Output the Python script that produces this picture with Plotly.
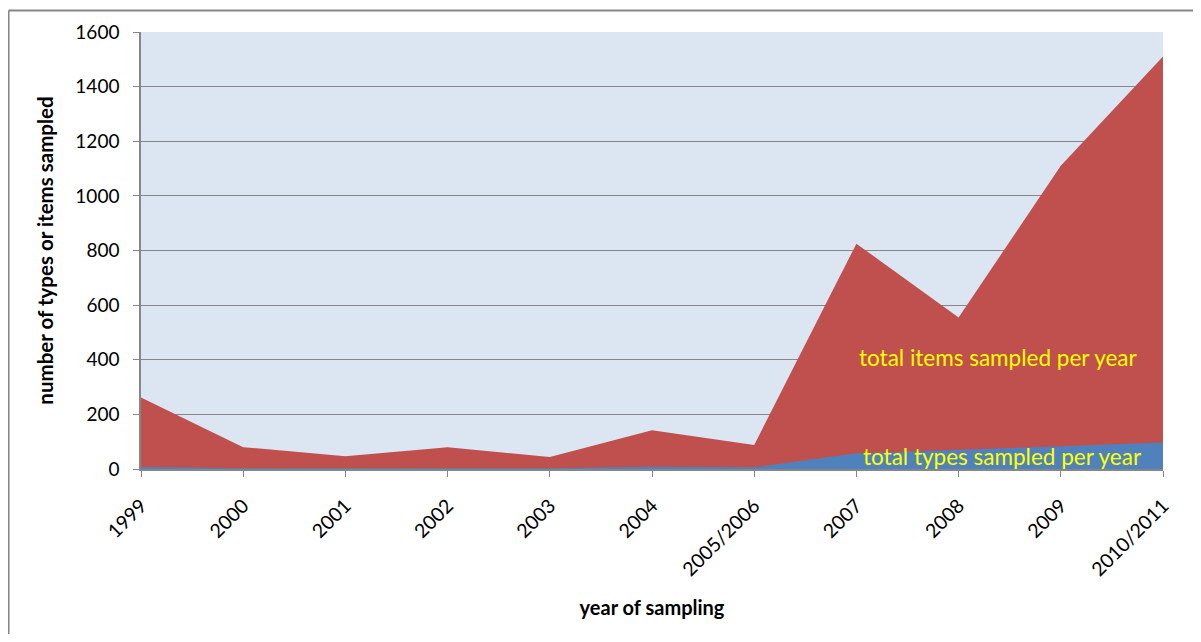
import plotly.graph_objects as go

years = ["1999", "2000", "2001", "2002", "2003", "2004", "2005/2006", "2007", "2008", "2009", "2010/2011"]
total_items = [262, 80, 47, 80, 44, 142, 88, 825, 555, 1110, 1510]
total_types = [7, 3, 3, 3, 3, 8, 6, 58, 70, 83, 97]
y_ticks = [0, 200, 400, 600, 800, 1000, 1200, 1400, 1600]

RED = "#C0504D"
BLUE = "#4F81BD"
FONT = "Lato, 'Open Sans', sans-serif"
BORDER = "#868686"

fig = go.Figure()
fig.add_trace(go.Scatter(x=years, y=total_items, mode="lines", fill="tozeroy",
                         line=dict(width=0, color=RED), fillcolor=RED,
                         name="total items sampled per year"))
fig.add_trace(go.Scatter(x=years, y=total_types, mode="lines", fill="tozeroy",
                         line=dict(width=0, color=BLUE), fillcolor=BLUE,
                         name="total types sampled per year"))

fig.update_layout(
    width=1185, height=626,
    margin=dict(l=133, r=30, t=22, b=165),
    paper_bgcolor="white",
    plot_bgcolor="#DCE6F2",
    showlegend=False,
    font=dict(family=FONT, size=19, color="black"),
    xaxis=dict(
        type="category", range=[0, len(years) - 1],
        tickangle=-45, ticks="outside", ticklen=6, tickcolor=BORDER,
        showline=True, linecolor=BORDER, linewidth=1.5,
        showgrid=False, zeroline=False, ticklabelstandoff=10,
        title=dict(text="<b>year of sampling</b>", font=dict(size=20), standoff=22),
        tickfont=dict(size=19.5),
    ),
    yaxis=dict(
        range=[0, 1600], tickvals=y_ticks,
        ticks="outside", ticklen=6, tickcolor=BORDER,
        showline=True, linecolor=BORDER, linewidth=1.5,
        showgrid=True, gridcolor=BORDER, gridwidth=1.2,
        zeroline=False, ticklabelstandoff=10,
        title=dict(text="<b>number of types or items sampled</b>", font=dict(size=20.5), standoff=16),
        tickfont=dict(size=19),
    ),
    shapes=[
        dict(type="line", xref="paper", yref="paper",
             x0=-0.1296, x1=1.2, y0=1.049, y1=1.049,
             line=dict(color=BORDER, width=2), layer="below"),
        dict(type="line", xref="paper", yref="paper",
             x0=-0.1296, x1=-0.1296, y0=-0.6, y1=1.049,
             line=dict(color=BORDER, width=2), layer="below"),
    ],
    annotations=[
        dict(x=0.8386, y=408, xref="paper", yref="y", text="total items sampled per year",
             showarrow=False, font=dict(color="#FFFF00", size=22.5, family=FONT),
             xanchor="center", yanchor="middle"),
        dict(x=0.8425, y=44, xref="paper", yref="y", text="total types sampled per year",
             showarrow=False, font=dict(color="#FFFF00", size=22.5, family=FONT),
             xanchor="center", yanchor="middle"),
    ],
)

fig.write_html("out.html")
